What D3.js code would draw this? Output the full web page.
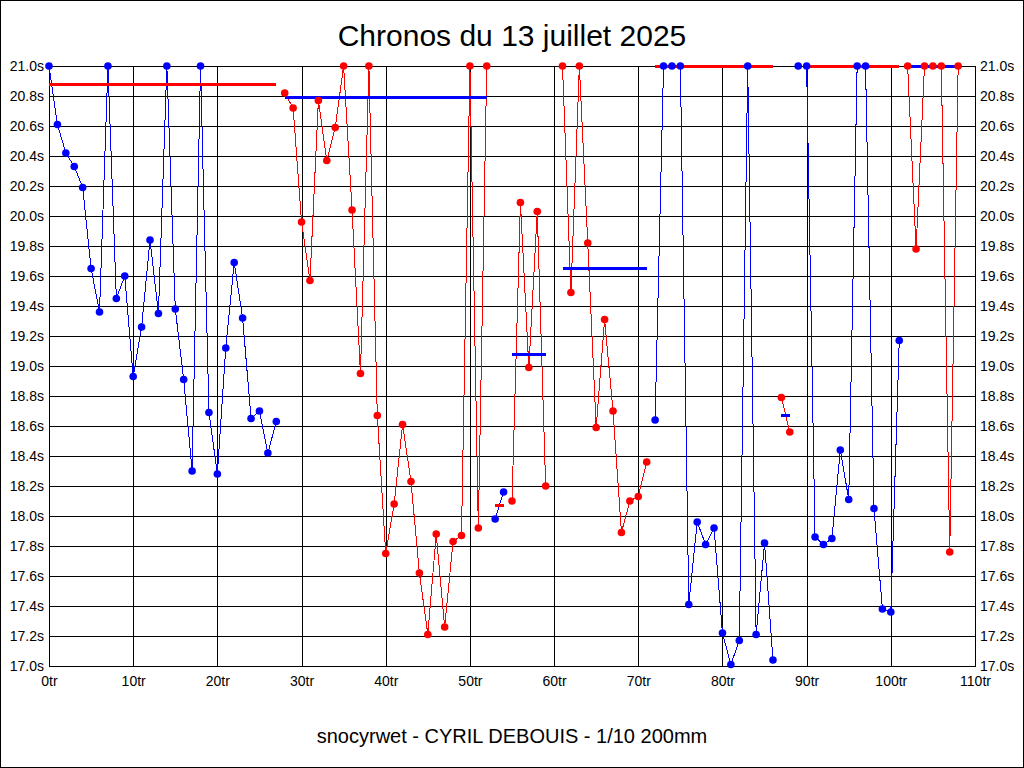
<!DOCTYPE html>
<html>
<head>
<meta charset="utf-8">
<script src="https://cdn.jsdelivr.net/npm/d3@7/dist/d3.min.js"></script>
<style>
  html, body { margin: 0; padding: 0; background: #fff; }
  svg { display: block; }
  text { font-family: "Liberation Sans", Arial, sans-serif; fill: #000; }
</style>
</head>
<body>
<svg id="chart" width="1024" height="768"></svg>
<script>
// ---------- DATA ----------
const title = "Chronos du 13 juillet 2025";
const subtitle = "snocyrwet - CYRIL DEBOUIS - 1/10 200mm";

// lap times (s), index = lap number ("tr"), null = no lap; values above 21.0 shown clipped at 21.0
const lapTimes = [
  21.0, 20.61, 20.42, 20.33, 20.19, 19.65, 19.36, 21.0, 19.45, 19.60,
  18.93, 19.26, 19.84, 19.35, 21.0, 19.38, 18.91, 18.30, 21.0, 18.69,
  18.28, 19.12, 19.69, 19.32, 18.65, 18.70, 18.42, 18.63, 20.82, 20.72,
  19.96, 19.57, 20.77, 20.37, 20.59, 21.0, 20.04, 18.95, 21.0, 18.67,
  17.75, 18.08, 18.61, 18.23, 17.62, 17.21, 17.88, 17.26, 17.83, 17.87,
  21.0, 17.92, 21.0, 17.98, 18.16, 18.10, 20.09, 18.99, 20.03, 18.20,
  null, 21.0, 19.49, 21.0, 19.82, 18.59, 19.31, 18.70, 17.89, 18.10,
  18.13, 18.36, 18.64, 21.0, 21.0, 21.0, 17.41, 17.96, 17.81, 17.92,
  17.22, 17.01, 17.17, 21.0, 17.21, 17.82, 17.04, 18.79, 18.56, 21.0,
  21.0, 17.86, 17.81, 17.85, 18.44, 18.11, 21.0, 21.0, 18.05, 17.38,
  17.36, 19.17, 21.0, 19.78, 21.0, 21.0, 21.0, 17.76, 21.0
];

// runs (sessions): first lap, last lap, colour, average line value
const runStart = [0, 28, 53, 55, 61, 72, 87, 89, 90, 102];
const runEnd   = [27, 52, 54, 59, 71, 86, 88, 89, 101, 108];
const runColor = ["blue", "red", "blue", "red", "red", "blue", "red", "blue", "blue", "red"];
const runAvg   = [20.88, 20.79, 18.07, 19.08, 19.65, 21.0, 18.67, null, 21.0, 21.0];

const yTicks = [17.0, 17.2, 17.4, 17.6, 17.8, 18.0, 18.2, 18.4, 18.6, 18.8, 19.0,
                19.2, 19.4, 19.6, 19.8, 20.0, 20.2, 20.4, 20.6, 20.8, 21.0];
const xTicks = [0, 10, 20, 30, 40, 50, 60, 70, 80, 90, 100, 110];

// ---------- DRAW ----------
const W = 1024, H = 768;
const svg = d3.select("#chart");
const colorMap = { blue: "#0000ff", red: "#ff0000" };
const avgColor = { blue: "#ff0000", red: "#0000ff" };

const x = d3.scaleLinear().domain([0, 110]).range([49, 975]);
const y = d3.scaleLinear().domain([17, 21]).range([666, 66]).clamp(true);

svg.append("rect").attr("x", 0).attr("y", 0).attr("width", W).attr("height", H).attr("fill", "#fff");
svg.append("rect").attr("x", 0.5).attr("y", 0.5).attr("width", W - 1).attr("height", H - 1)
  .attr("fill", "none").attr("stroke", "#000").attr("stroke-width", 1);

// title
svg.append("text").attr("x", W / 2).attr("y", 46).attr("text-anchor", "middle")
  .style("font-size", "30px").text(title);
svg.append("text").attr("x", W / 2).attr("y", 743).attr("text-anchor", "middle")
  .style("font-size", "20px").text(subtitle);

// grid
const grid = svg.append("g").attr("shape-rendering", "crispEdges");
grid.selectAll("line.h").data(yTicks).join("line")
  .attr("x1", x(0)).attr("x2", x(110))
  .attr("y1", d => Math.round(y(d)) + 0.5).attr("y2", d => Math.round(y(d)) + 0.5)
  .attr("stroke", "#000").attr("stroke-width", 1);
grid.selectAll("line.v").data(xTicks).join("line")
  .attr("y1", y(21)).attr("y2", y(17) + 1)
  .attr("x1", d => Math.round(x(d)) + 0.5).attr("x2", d => Math.round(x(d)) + 0.5)
  .attr("stroke", "#000").attr("stroke-width", 1);

// axes labels via d3 axes (domain/ticks hidden, labels only)
const fmtY = d => d3.format(".1f")(d) + "s";
const leftAxis = d3.axisLeft(y).tickValues(yTicks).tickFormat(fmtY).tickSize(0).tickPadding(5);
const rightAxis = d3.axisRight(y).tickValues(yTicks).tickFormat(fmtY).tickSize(0).tickPadding(5);
const bottomAxis = d3.axisBottom(x).tickValues(xTicks).tickFormat(d => d + "tr").tickSize(0).tickPadding(10);

function styleAxis(g) {
  g.select(".domain").remove();
  g.selectAll("text").style("font-size", "14px").style("font-family", "'Liberation Sans', Arial, sans-serif").attr("fill", "#000");
}
svg.append("g").attr("transform", `translate(${x(0)},0)`).call(leftAxis).call(styleAxis);
svg.append("g").attr("transform", `translate(${x(110)},0)`).call(rightAxis).call(styleAxis);
svg.append("g").attr("transform", `translate(0,${y(17)})`).call(bottomAxis).call(styleAxis);

// data
const line = d3.line().x(d => x(d.lap)).y(d => y(d.t));
const runs = runStart.map((s, i) => {
  const pts = [];
  for (let k = s; k <= runEnd[i]; k++) if (lapTimes[k] != null) pts.push({ lap: k, t: lapTimes[k] });
  return { pts, color: runColor[i], avg: runAvg[i], s, e: runEnd[i] };
});

const dataG = svg.append("g");
runs.forEach(r => {
  if (r.pts.length > 1) {
    dataG.append("path").attr("d", line(r.pts)).attr("fill", "none")
      .attr("stroke", colorMap[r.color]).attr("stroke-width", 1).attr("shape-rendering", "crispEdges");
  }
});
runs.forEach(r => {
  if (r.avg != null && r.e > r.s) {
    dataG.append("line").attr("x1", x(r.s)).attr("x2", x(r.e))
      .attr("y1", y(r.avg)).attr("y2", y(r.avg))
      .attr("stroke", avgColor[r.color]).attr("stroke-width", 3).attr("shape-rendering", "crispEdges");
  }
});
runs.forEach(r => {
  dataG.selectAll(null).data(r.pts).join("circle")
    .attr("cx", d => x(d.lap)).attr("cy", d => y(d.t)).attr("r", 3.8)
    .attr("fill", colorMap[r.color]);
});
</script>
</body>
</html>
